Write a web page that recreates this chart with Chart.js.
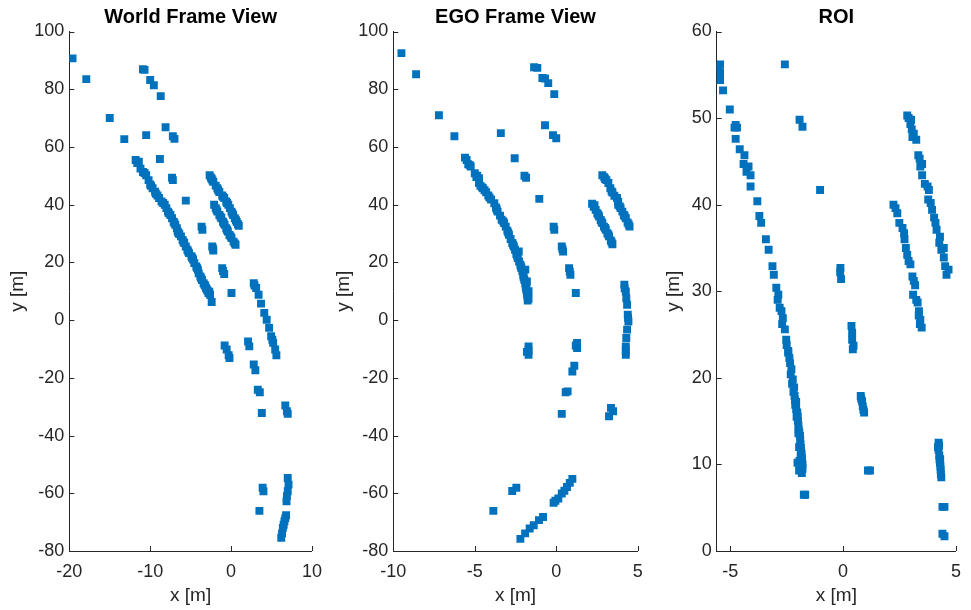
<!DOCTYPE html>
<html>
<head>
<meta charset="utf-8">
<title>Point cloud views</title>
<script src="https://cdn.jsdelivr.net/npm/chart.js@4.4.1/dist/chart.umd.min.js"></script>
<style>
    body { margin: 0; background: #ffffff; }
    #wrap { position: relative; width: 971px; height: 610px; }
    canvas { position: absolute; top: 0; }
</style>
</head>
<body>
<div id="wrap">
    <canvas id="worldChart" width="326" height="610" style="left:6px"></canvas>
    <canvas id="egoChart" width="330" height="610" style="left:332px"></canvas>
    <canvas id="roiChart" width="309" height="610" style="left:662px"></canvas>
</div>
<script>
// World frame detections [m]
const worldX = [
    -19.6, -17.9, -15.0, -13.2, -10.9, -10.7, -10.0, -9.55, -8.7, -8.1, -10.5, -7.2, -7.0, -8.8, -7.3, -7.2, -5.6,
    -11.8, -11.6, -11.2, -10.9, -10.5, -10.2, -10.0, -9.7, -9.4, -9.1, -8.9, -8.6, -8.2, -8.0, -7.8, -7.5, -7.3, -7.1,
    -6.9, -6.7, -6.6, -6.4, -6.2, -6.0, -5.8, -5.6, -5.4, -5.2, -4.9, -4.7, -4.55, -4.3, -4.1, -4.0, -3.8, -3.6, -3.4,
    -3.2, -3.1, -2.9, -2.8, -2.4,
    -11.4, -10.7, -9.9, -9.3, -8.4, -7.7, -7.0, -6.5, -5.9, -5.3, -4.8, -4.2, -3.7, -3.3, -3.0, -2.7, -2.6,
    -2.65, -2.5, -2.4, -2.2, -1.9, -1.7, -1.45, -1.1, -0.85, -0.6, -0.35, -0.15, 0.05, 0.25, 0.46, 0.7, 0.95,
    -2.3, -1.6, -1.0, -0.5, 0.15, 0.6, 0.85,
    -2.1, -1.9, -1.7, -1.45, -1.2, -1.0, -0.8, -0.6, -0.4, -0.2, 0.05, 0.3, 0.55,
    -1.8, -1.3, -0.9, -0.5, -0.05, 0.45,
    -3.65, -3.55, -2.33, -2.2, -2.25, -1.1, -0.85, -1.0, 0.05,
    2.8, 2.9, 3.1, 3.4, 3.7, 4.1, 4.4, 4.7, 4.95, 5.1, 5.2, 5.45, 5.6,
    2.1, 2.25, -0.8, -0.55, -0.3, -0.2, 2.8, 3.0, 3.3, 3.55, 3.8, 6.7, 6.9, 7.0, 3.9, 4.0, 3.5,
    7.0, 7.1, 7.0, 6.9, 6.85, 6.8, 6.7, 6.6, 6.5, 6.4, 6.3, 6.2
];
const worldY = [
    90.7, 83.5, 70.0, 62.7, 86.9, 86.7, 83.2, 81.4, 77.6, 66.8, 64.1, 63.7, 62.8, 55.8, 49.3, 48.5, 41.4,
    55.5, 54.4, 52.5, 51.3, 50.2, 48.5, 47.0, 45.7, 44.5, 43.2, 42.3, 41.1, 40.0, 38.8, 37.6, 36.4, 35.3, 34.1,
    33.0, 31.8, 30.7, 29.8, 29.0, 27.8, 26.7, 25.5, 24.4, 23.2, 22.1, 21.0, 19.8, 18.6, 17.4, 16.2, 15.1, 13.9, 12.8,
    11.9, 11.1, 10.2, 9.4, 6.3,
    54.9, 51.0, 46.5, 43.8, 40.6, 37.0, 33.6, 30.2, 27.2, 23.8, 21.5, 18.0, 14.5, 12.3, 10.6, 9.8, 8.8,
    50.2, 49.4, 49.0, 47.9, 46.6, 45.7, 44.4, 43.2, 42.3, 41.1, 40.0, 38.8, 37.6, 36.4, 35.3, 34.0, 32.7,
    48.4, 45.0, 42.7, 40.6, 37.0, 34.6, 33.2,
    40.0, 38.8, 37.6, 36.4, 35.3, 34.1, 33.0, 31.8, 30.7, 29.5, 28.4, 27.2, 26.1,
    38.2, 35.8, 33.6, 31.2, 29.0, 26.6,
    32.4, 31.3, 25.5, 24.1, 24.8, 18.0, 16.0, 17.0, 9.4,
    12.8, 12.0, 11.1, 8.8, 5.7, 2.5, 0.1, -2.7, -5.6, -6.8, -7.9, -10.2, -12.2,
    -7.4, -9.1, -8.8, -10.2, -12.2, -13.1, -15.4, -17.4, -24.1, -25.0, -32.2, -29.6, -31.6, -32.5, -58.1, -59.3, -66.1,
    -54.7, -57.0, -59.3, -61.0, -62.8, -67.6, -68.6, -69.7, -70.9, -72.0, -73.9, -75.4
];

// Ego frame detections [m]
const egoX = [
    -9.5, -8.6, -7.2, -6.25, -3.4, -2.55, -1.95, -1.85, -1.04, -1.36, -1.16, -0.85, -0.69, -0.49, -0.12, -0.69, -0.2, 0.0,
    -5.6, -5.5, -5.4, -5.25, -5.0, -4.85, -4.74, -4.74, -4.65, -4.5, -4.4, -4.3, -4.17, -4.0, -3.8, -3.7, -3.6, -3.45,
    -3.35, -3.2, -3.1, -3.0, -2.9, -2.8, -2.7, -2.6, -2.53, -2.45, -2.36, -2.28, -2.2, -2.14, -2.08, -2.02, -1.96, -1.9,
    -1.87, -1.83, -1.8, -1.75, -1.75,
    -5.3, -4.9, -4.55, -4.1, -3.65, -3.25, -2.95, -2.65, -2.4, -2.3, -2.17, -2.0, -1.9, -1.8, -1.85, -1.7, -1.78, -1.7,
    -0.16, -0.12, 0.34, 0.42, 0.38, 0.79, 0.87, 0.83, 1.2,
    2.83, 2.95, 3.08, 3.2, 3.32, 3.45, 3.57, 3.73, 3.8, 3.8, 3.95, 4.06, 4.15, 4.27, 4.38, 4.5,
    3.0, 3.4, 3.9, 4.2, 4.45,
    2.2, 2.3, 2.42, 2.52, 2.63, 2.73, 2.83, 2.93, 3.04, 3.14, 3.24, 3.35, 3.45,
    2.35, 2.58, 2.78, 3.0, 3.2, 3.4,
    4.18, 4.2, 4.27, 4.3, 4.35, 4.39, 4.41, 4.43, 4.35, 4.3, 4.27, 4.27, 4.27,
    1.28, 1.28, 1.2, -1.7, -1.7, -1.7, -1.8,
    1.11, 0.99, 0.7, 0.58, 0.34, 3.36, 3.49, 3.24,
    -2.45, -2.7, -3.86,
    0.99, 0.83, 0.66, 0.5, 0.34, 0.13, -0.05, -0.16, -0.81, -1.06, -1.38, -1.63, -1.91, -2.2
];
const egoY = [
    92.5, 85.2, 71.0, 63.7, 64.8, 56.1, 50.0, 49.3, 42.0, 87.6, 87.4, 83.9, 83.7, 82.1, 78.3, 67.5, 64.1, 63.0,
    56.3, 55.5, 54.0, 53.2, 50.9, 50.0, 49.2, 47.5, 46.5, 45.7, 45.0, 44.3, 43.2, 41.8, 40.5, 39.0, 37.6, 36.2,
    34.8, 33.6, 32.4, 31.0, 29.6, 28.1, 26.7, 25.5, 24.4, 23.0, 21.5, 20.3, 19.2, 18.0, 16.9, 15.5, 14.0, 12.8,
    11.7, 10.5, 9.4, 8.0, 6.8,
    53.7, 49.6, 46.0, 42.5, 38.3, 34.2, 30.3, 26.1, 22.3, 23.8, 18.6, 14.8, 17.5, 13.4, 11.1, 10.0, 8.7, 7.4,
    32.4, 31.3, 25.5, 23.8, 24.6, 18.0, 15.7, 16.8, 9.4,
    50.2, 49.5, 48.5, 47.5, 45.7, 44.2, 43.1, 42.3, 41.0, 40.0, 38.8, 37.6, 36.4, 35.3, 33.8, 32.4,
    48.9, 44.6, 39.4, 36.0, 33.1,
    40.3, 39.3, 38.2, 37.0, 35.9, 34.7, 33.6, 32.4, 31.3, 30.1, 29.0, 27.6, 26.3,
    39.8, 36.5, 34.1, 31.9, 29.6, 27.0,
    12.3, 11.0, 9.9, 7.6, 5.3, 1.9, 0.7, -0.5, -3.3, -6.2, -9.1, -10.5, -12.0,
    -7.9, -9.7, -8.8, -9.1, -10.5, -12.0, -11.0,
    -15.8, -17.8, -24.7, -25.0, -32.5, -30.4, -31.6, -33.3,
    -58.1, -59.2, -66.1,
    -55.0, -56.4, -57.8, -59.1, -60.1, -61.8, -62.6, -63.3, -68.2, -69.3, -71.1, -72.2, -73.9, -75.8
];

// Region of interest detections [m]
const roiX = [
    -5.55, -5.45, -5.45, -5.45, -5.32, -5.02, -4.76, -4.81, -4.7, -4.76, -4.58, -4.37, -4.41, -4.19, -4.28, -4.1, -4.1,
    -3.8, -3.71, -3.63, -3.42, -3.3, -3.13, -3.07, -2.96, -2.87, -2.9, -2.81, -2.73, -2.67, -2.7, -2.58, -2.52, -2.5,
    -2.43, -2.43, -2.35, -2.29, -2.23, -2.17, -2.15, -2.12, -2.03, -2.0, -1.97, -1.91, -1.89, -1.86, -1.83, -1.8, -1.83,
    -2.08, -2.06, -1.98, -1.95, -1.93, -1.9, -1.88, -1.74, -1.68,
    -2.38, -2.32, -2.26, -2.2, -2.13, -2.08, -2.01, -1.98, -1.94, -1.9, -1.87, -1.84, -1.82, -1.8, -1.95, -2.02,
    -2.58, -1.93, -1.8, -1.02, -0.12, -0.09, -0.13,
    0.37, 0.4, 0.4, 0.46, 0.43, 0.78, 0.84, 0.87, 0.93, 0.8, 0.9, 1.19, 1.1,
    2.84, 2.9, 3.01, 2.98, 3.04, 3.13, 3.07, 3.24, 3.33, 3.39, 3.5, 3.42, 3.5, 3.62, 3.74, 3.8, 3.77, 3.88, 3.94,
    4.03, 4.09, 4.14, 4.29, 4.26, 4.35, 4.46, 4.46, 4.52, 4.67, 4.58,
    2.23, 2.32, 2.4, 2.49, 2.63, 2.7, 2.72, 2.78, 2.84, 2.9, 2.98, 3.07, 3.13, 3.19, 3.1, 3.24, 3.3, 3.36, 3.42, 3.48,
    3.4, 3.35,
    4.23, 4.23, 4.26, 4.29, 4.32, 4.35, 4.2, 4.3, 4.25, 4.27, 4.31, 4.33, 4.4, 4.49, 4.4, 4.49
];
const roiY = [
    56.0, 56.2, 55.3, 54.4, 53.2, 51.0, 49.2, 48.9, 48.9, 47.6, 46.4, 45.7, 44.7, 44.4, 43.8, 43.4, 42.1,
    40.4, 38.7, 37.9, 36.0, 34.8, 32.9, 31.9, 30.4, 29.6, 29.0, 28.1, 27.7, 26.9, 26.2, 25.6, 24.4, 23.8,
    23.1, 22.9, 21.7, 21.0, 19.8, 18.9, 17.9, 16.9, 16.0, 15.0, 14.0, 13.3, 12.3, 11.5, 10.8, 10.0, 9.0,
    17.2, 15.5, 13.6, 12.0, 10.4, 9.5, 11.0, 6.5, 6.5,
    22.3, 20.4, 19.3, 18.4, 17.4, 16.4, 15.5, 14.5, 13.7, 12.8, 11.9, 11.2, 10.4, 9.5, 9.3, 10.2,
    56.2, 49.8, 49.0, 41.7, 32.7, 31.4, 32.2,
    26.0, 25.2, 24.4, 23.7, 23.3, 17.9, 17.3, 16.7, 16.0, 17.6, 16.3, 9.3, 9.3,
    50.3, 50.0, 49.8, 49.3, 48.7, 48.2, 47.8, 47.5, 45.7, 45.3, 44.7, 44.4, 43.4, 42.4, 42.1, 41.7, 40.6, 40.2, 39.4,
    38.5, 37.9, 37.1, 36.3, 35.6, 34.8, 35.0, 33.9, 32.9, 32.5, 31.9,
    40.0, 39.6, 39.0, 37.9, 37.3, 36.7, 36.0, 35.0, 34.2, 33.5, 33.1, 31.7, 31.2, 30.7, 29.6, 29.0, 28.7, 27.7, 26.7, 25.8,
    26.2, 27.2,
    12.5, 11.7, 11.0, 10.2, 9.4, 8.5, 12.0, 10.6, 12.2, 10.6, 9.8, 8.9, 5.1, 5.1, 2.0, 1.7
];

// Tick positions for each axis
const worldXTicks = [-20, -10, 0, 10];
const egoXTicks = [-10, -5, 0, 5];
const roiXTicks = [-5, 0, 5];
const frameYTicks = [-80, -60, -40, -20, 0, 20, 40, 60, 80, 100];
const roiYTicks = [0, 10, 20, 30, 40, 50, 60];

const MARKER_COLOR = '#0072BD';
const AXIS_COLOR = '#262626';
const FONT = "'Liberation Sans', Arial, Helvetica, sans-serif";

// Short tick marks pointing into the plot area
const inwardTicks = {
    id: 'inwardTicks',
    beforeDatasetsDraw(chart) {
        const { ctx, chartArea, scales } = chart;
        ctx.save();
        ctx.strokeStyle = AXIS_COLOR;
        ctx.lineWidth = 1;
        ctx.beginPath();
        scales.x.ticks.forEach(t => {
            const px = Math.round(scales.x.getPixelForValue(t.value)) + 0.5;
            ctx.moveTo(px, chartArea.bottom);
            ctx.lineTo(px, chartArea.bottom - 5);
        });
        scales.y.ticks.forEach(t => {
            const py = Math.round(scales.y.getPixelForValue(t.value)) + 0.5;
            ctx.moveTo(chartArea.left, py);
            ctx.lineTo(chartArea.left + 5, py);
        });
        ctx.stroke();
        ctx.restore();
    }
};

function toPoints(xs, ys) {
    return xs.map((x, i) => ({ x: x, y: ys[i] }));
}

function axisOptions(min, max, ticks, label, fixedSize, isX) {
    return {
        type: 'linear',
        min: min,
        max: max,
        afterBuildTicks: scale => {
            scale.ticks = ticks.map(v => ({ value: v }));
        },
        afterFit: scale => {
            if (isX) scale.height = fixedSize;
            else scale.width = fixedSize;
        },
        grid: { display: false, drawTicks: false },
        border: { display: true, color: AXIS_COLOR, width: 1 },
        ticks: {
            color: AXIS_COLOR,
            font: { family: FONT, size: 18 },
            padding: isX ? 10 : 5,
            maxRotation: 0,
            autoSkip: false
        },
        title: {
            display: true,
            text: label,
            color: AXIS_COLOR,
            font: { family: FONT, size: 19 },
            padding: isX ? { top: 0, bottom: 2.6 } : { top: 0, bottom: 0 }
        }
    };
}

// Build one scatter panel
function createPanel(canvasId, title, xs, ys, xRange, xTicks, yRange, yTicks, yAxisWidth, rightPad) {
    const ctx = document.getElementById(canvasId).getContext('2d');
    return new Chart(ctx, {
        type: 'scatter',
        data: {
            datasets: [{
                data: toPoints(xs, ys),
                pointStyle: 'rect',
                pointRadius: 5.6,
                borderWidth: 0,
                backgroundColor: MARKER_COLOR
            }]
        },
        options: {
            responsive: false,
            animation: false,
            devicePixelRatio: 1,
            events: [],
            layout: { padding: { left: 0, right: rightPad, top: 0, bottom: 0 } },
            plugins: {
                legend: { display: false },
                tooltip: { enabled: false },
                title: {
                    display: true,
                    fullSize: false,
                    text: title,
                    color: '#000000',
                    font: { family: FONT, size: 20, weight: 'bold' },
                    padding: { top: 5, bottom: 2.5 }
                }
            },
            scales: {
                x: axisOptions(xRange[0], xRange[1], xTicks, 'x [m]', 59, true),
                y: axisOptions(yRange[0], yRange[1], yTicks, 'y [m]', yAxisWidth, false)
            }
        },
        plugins: [inwardTicks]
    });
}

document.addEventListener('DOMContentLoaded', () => {
    createPanel('worldChart', 'World Frame View', worldX, worldY, [-20, 10], worldXTicks, [-80, 100], frameYTicks, 63.3, 18.7);
    createPanel('egoChart', 'EGO Frame View', egoX, egoY, [-10, 5], egoXTicks, [-80, 100], frameYTicks, 61.3, 24.3);
    createPanel('roiChart', 'ROI', roiX, roiY, [-5.6, 5], roiXTicks, [0, 60], roiYTicks, 54.7, 10.3);
});
</script>
</body>
</html>
